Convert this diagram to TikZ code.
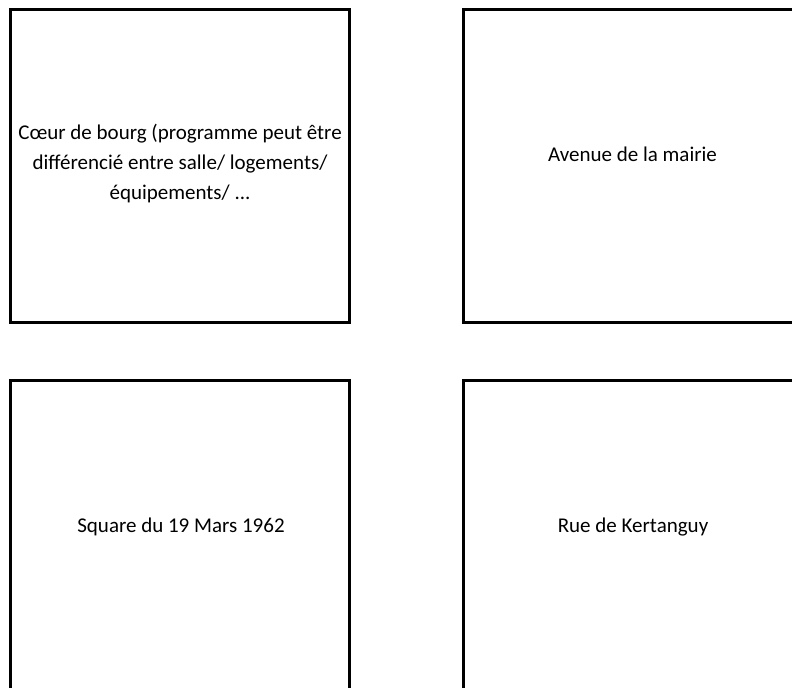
\documentclass[tikz,border=0pt]{standalone}
\usepackage{fontspec}
\setmainfont{Carlito}
\begin{document}
\begin{tikzpicture}[x=1bp,y=-1bp,
  zone/.style={draw=black,line width=3bp,fill=none},
  lbl/.style={font=\fontsize{21bp}{30bp}\selectfont,inner sep=0pt,align=center}]
\useasboundingbox (0,0) rectangle (792,688);
\clip (0,0) rectangle (792,688);
\fill[white] (0,0) rectangle (792,688);
\draw[zone] (10.5,9.5) rectangle (349.5,322.5) coordinate (tlc);
\draw[zone] (463.5,9.5) rectangle (802.5,322.5) coordinate (trc);
\draw[zone] (10.5,380.5) rectangle (349.5,693.5) coordinate (blc);
\draw[zone] (463.5,380.5) rectangle (802.5,693.5) coordinate (brc);
\node[lbl] (coeur) at (180,163.5) {Cœur de bourg (programme peut être\\différencié entre salle/ logements/\\équipements/ ...};
\node[lbl,anchor=base] (avenue) at (632.5,161) {Avenue de la mairie};
\node[lbl,anchor=base] (square) at (181,532) {Square du 19 Mars 1962};
\node[lbl,anchor=base] (rue) at (633,532) {Rue de Kertanguy};
\end{tikzpicture}
\end{document}
